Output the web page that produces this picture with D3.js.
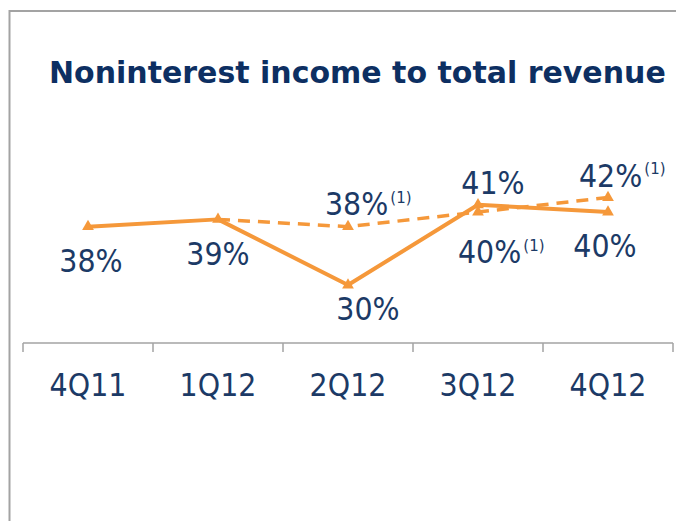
<!DOCTYPE html>
<html>
<head>
<meta charset="utf-8">
<script src="https://cdn.jsdelivr.net/npm/d3@7"></script>
<style>
  html, body { margin: 0; padding: 0; background: #ffffff; }
  svg { display: block; }
</style>
</head>
<body>
<svg id="chart" width="676" height="521"></svg>
<script>
// ---- data ----
const categories = ["4Q11", "1Q12", "2Q12", "3Q12", "4Q12"];
const reportedValues = [38, 39, 30, 41, 40];          // solid line
const adjustedValues = [null, 39, 38, 40, 42];        // dashed line, (1)
const reportedLabels = ["38%", "39%", "30%", "41%", "40%"];
const adjustedLabels = [null, null, "38%", "40%", "42%"];
const footnoteMark = "(1)";
const title = "Noninterest income to total revenue";

// ---- layout / style ----
const W = 676, H = 521;
const navy = "#1c3a66";
const titleColor = "#0d2f62";
const orange = "#f5983a";
const grey = "#a3a3a3";
const font = "'DejaVu Sans', Verdana, sans-serif";
const stretch = 1.1;

// label offsets relative to each point (layout only)
const reportedOffsets = [[3, 45], [0, 46], [20, 35], [15, -11], [-3, 45]];
const adjustedOffsets = [null, null, [-23, -12], [-20, 51], [-29, -11]];

const svg = d3.select("#chart");

// frame
svg.append("line").attr("x1", 9.5).attr("x2", 9.5).attr("y1", 10).attr("y2", H)
  .attr("stroke", grey).attr("stroke-width", 2);
svg.append("line").attr("x1", 9.5).attr("x2", W).attr("y1", 11).attr("y2", 11)
  .attr("stroke", grey).attr("stroke-width", 2);

// title
svg.append("text")
  .attr("transform", `translate(49,83) scale(1,1.03)`)
  .attr("font-family", font).attr("font-weight", "bold").attr("font-size", 30)
  .attr("fill", titleColor)
  .text(title);

// scales
const x = d3.scaleBand().domain(categories).range([23, 673]).paddingInner(0).paddingOuter(0);
const cx = c => x(c) + x.bandwidth() / 2;
const y = d3.scaleLinear().domain([30, 42]).range([285, 197.5]);
const axisY = 343;

// axis
const axisG = svg.append("g").attr("transform", `translate(0,${axisY})`);
axisG.append("line").attr("x1", x.range()[0]).attr("x2", x.range()[1])
  .attr("stroke", grey).attr("stroke-width", 1.5);
const edges = categories.map(c => x(c)).concat([x.range()[1]]);
axisG.selectAll("line.tick").data(edges).enter().append("line")
  .attr("class", "tick")
  .attr("x1", d => d).attr("x2", d => d).attr("y1", 0).attr("y2", 9)
  .attr("stroke", grey).attr("stroke-width", 1.5);
axisG.selectAll("text.cat").data(categories).enter().append("text")
  .attr("class", "cat")
  .attr("transform", d => `translate(${cx(d)},53) scale(1,${stretch})`)
  .attr("text-anchor", "middle")
  .attr("font-family", font).attr("font-size", 28.5)
  .attr("fill", navy)
  .text(d => d);

// series points
const reported = categories.map((c, i) => ({ c, v: reportedValues[i], i }));
const adjusted = categories.map((c, i) => ({ c, v: adjustedValues[i], i })).filter(d => d.v !== null);

const line = d3.line().x(d => cx(d.c)).y(d => y(d.v));

svg.append("path").datum(adjusted)
  .attr("d", line).attr("fill", "none")
  .attr("stroke", orange).attr("stroke-width", 3.5)
  .attr("stroke-dasharray", "12,8");

svg.append("path").datum(reported)
  .attr("d", line).attr("fill", "none")
  .attr("stroke", orange).attr("stroke-width", 4)
  .attr("stroke-linejoin", "round");

const tri = d3.symbol().type(d3.symbolTriangle).size(60);
svg.selectAll("path.m1").data(reported).enter().append("path")
  .attr("class", "m1").attr("d", tri)
  .attr("transform", d => `translate(${cx(d.c)},${y(d.v)})`)
  .attr("fill", orange);
svg.selectAll("path.m2").data(adjusted.filter(d => adjustedLabels[d.i])).enter().append("path")
  .attr("class", "m2").attr("d", tri)
  .attr("transform", d => `translate(${cx(d.c)},${y(d.v)})`)
  .attr("fill", orange);

// labels (reported)
svg.selectAll("text.lab1").data(reported).enter().append("text")
  .attr("class", "lab1")
  .attr("transform", d => `translate(${cx(d.c) + reportedOffsets[d.i][0]},${y(d.v) + reportedOffsets[d.i][1]}) scale(1,${stretch})`)
  .attr("text-anchor", "middle")
  .attr("font-family", font).attr("font-size", 28.5)
  .attr("fill", navy)
  .text(d => reportedLabels[d.i]);

// labels (adjusted, with footnote mark)
const lab2 = svg.selectAll("text.lab2").data(adjusted.filter(d => adjustedLabels[d.i])).enter().append("text")
  .attr("class", "lab2")
  .attr("transform", d => `translate(${cx(d.c) + adjustedOffsets[d.i][0]},${y(d.v) + adjustedOffsets[d.i][1]}) scale(1,${stretch})`)
  .attr("text-anchor", "start")
  .attr("font-family", font).attr("font-size", 28.5)
  .attr("fill", navy);
lab2.append("tspan").text(d => adjustedLabels[d.i]);
lab2.append("tspan").attr("dx", 2).attr("dy", -11).attr("font-size", 15).text(footnoteMark);
</script>
</body>
</html>
